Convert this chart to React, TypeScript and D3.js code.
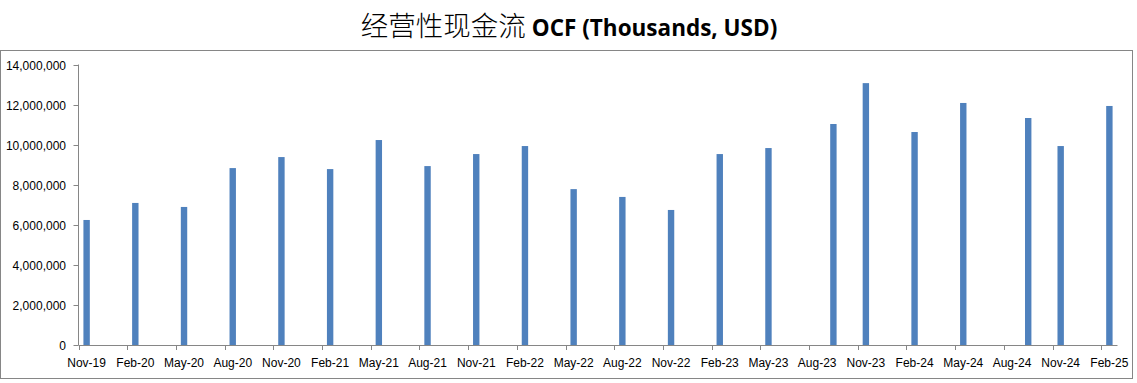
import React, { useEffect, useRef } from "react";
import * as d3 from "d3";

const periods = [
  "2019-11", "2020-02", "2020-05", "2020-08", "2020-11", "2021-02", "2021-05", "2021-08",
  "2021-11", "2022-02", "2022-05", "2022-08", "2022-11", "2023-02", "2023-05", "2023-09",
  "2023-11", "2024-02", "2024-05", "2024-09", "2024-11", "2025-02",
];
const ocfValues = [
  6240000, 7090000, 6890000, 8830000, 9380000, 8780000, 10230000, 8930000,
  9530000, 9930000, 7780000, 7390000, 6740000, 9530000, 9830000, 11030000,
  13070000, 10630000, 12080000, 11330000, 9930000, 11930000,
];
const yTicks = [0, 2000000, 4000000, 6000000, 8000000, 10000000, 12000000, 14000000];
const axisStart = "2019-11";
const axisMonths = 64;
const tickStepMonths = 3;

const W = 1137;
const H = 383;

function monthIndex(p: string): number {
  const [y, m] = p.split("-").map(Number);
  const [y0, m0] = axisStart.split("-").map(Number);
  return (y - y0) * 12 + (m - m0);
}

export default function App() {
  const ref = useRef<SVGSVGElement>(null);

  useEffect(() => {
    document.body.style.margin = "0";
    const svg = d3.select(ref.current);
    svg.selectAll("*").remove();

    const x0 = 78.5, x1 = 1117.5, yBase = 345, yTop = 64.5;
    const x = d3.scaleLinear().domain([0, axisMonths]).range([x0, x1]);
    const y = d3.scaleLinear().domain([0, 14000000]).range([yBase, yTop]);
    const axisColor = "#868686";
    const font = "'Liberation Sans', Arial, sans-serif";

    // outer border
    svg.append("rect")
      .attr("x", 0.5).attr("y", 50.5).attr("width", 1132).attr("height", 328)
      .attr("fill", "#fff").attr("stroke", axisColor).attr("stroke-width", 1);

    // title
    const title = svg.append("text")
      .attr("x", 569).attr("y", 36).attr("text-anchor", "middle")
      .attr("fill", "#000");
    title.append("tspan")
      .attr("font-family", "'Noto Sans CJK SC', sans-serif")
      .attr("font-size", 27.5).attr("font-weight", 300)
      .text("经营性现金流 ");
    title.append("tspan")
      .attr("font-family", "'Open Sans', sans-serif")
      .attr("font-size", 22.5).attr("font-weight", 700)
      .text("OCF (Thousands, USD)");

    // bars
    const bw = 6.4;
    svg.append("g").selectAll("rect").data(periods).join("rect")
      .attr("x", (p) => x(monthIndex(p) + 0.5) - bw / 2)
      .attr("y", (_, i) => y(ocfValues[i]))
      .attr("width", bw)
      .attr("height", (_, i) => yBase - y(ocfValues[i]))
      .attr("fill", "#4F81BD");

    // y axis
    svg.append("line").attr("x1", x0).attr("x2", x0).attr("y1", yTop).attr("y2", yBase)
      .attr("stroke", axisColor);
    const fmt = d3.format(",");
    const yg = svg.append("g");
    yTicks.forEach((t) => {
      const yy = Math.round(y(t)) + 0.5;
      yg.append("line").attr("x1", x0 - 5).attr("x2", x0).attr("y1", yy).attr("y2", yy)
        .attr("stroke", axisColor);
      yg.append("text").attr("x", 66).attr("y", yy).attr("dy", "0.35em")
        .attr("text-anchor", "end").attr("font-family", font).attr("font-size", 12)
        .attr("fill", "#000").text(fmt(t));
    });

    // x axis
    svg.append("line").attr("x1", x0).attr("x2", x1).attr("y1", yBase + 0.5).attr("y2", yBase + 0.5)
      .attr("stroke", axisColor);
    const xg = svg.append("g");
    const [ys, ms] = axisStart.split("-").map(Number);
    const lblFmt = d3.utcFormat("%b-%y");
    for (let k = 0; k <= axisMonths; k += tickStepMonths) {
      const xx = Math.round(x(k)) + 0.5;
      xg.append("line").attr("x1", xx).attr("x2", xx).attr("y1", yBase).attr("y2", yBase + 5)
        .attr("stroke", axisColor);
      if (k < axisMonths) {
        const d = new Date(Date.UTC(ys, ms - 1 + k, 1));
        xg.append("text").attr("x", x(k + 0.5)).attr("y", 366.5)
          .attr("text-anchor", "middle").attr("font-family", font).attr("font-size", 12)
          .attr("fill", "#000").text(lblFmt(d));
      }
    }
  }, []);

  return (
    <svg ref={ref} width={W} height={H} style={{ display: "block", background: "#fff" }} />
  );
}
